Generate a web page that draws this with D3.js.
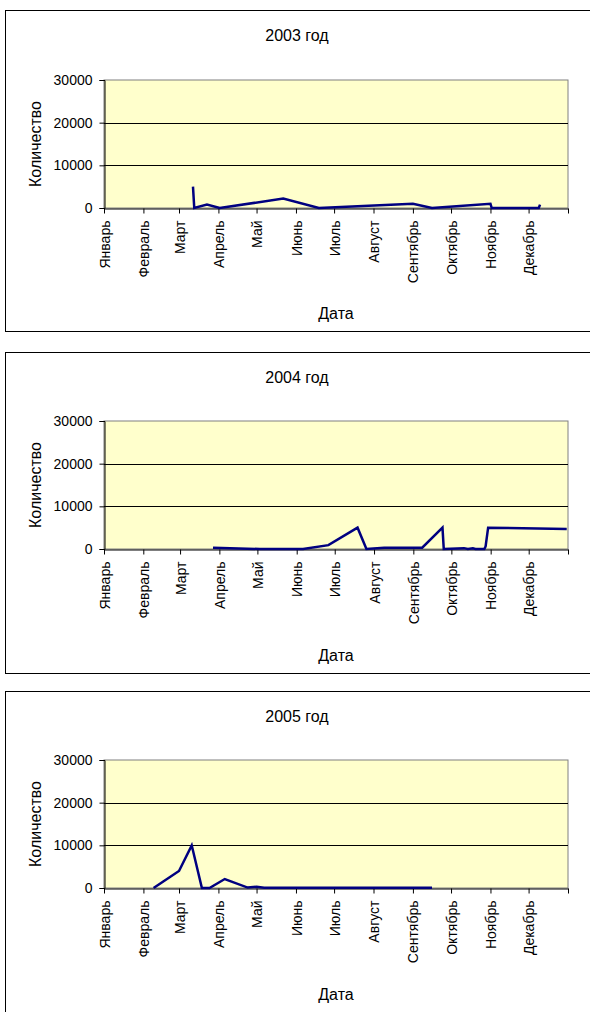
<!DOCTYPE html>
<html><head><meta charset="utf-8">
<script src="https://cdn.jsdelivr.net/npm/d3@7"></script>
<style>body{margin:0;background:#fff}svg{display:block}text{font-family:Arial,"Liberation Sans",sans-serif;fill:#000}</style>
</head><body>
<script>
const monthLabels = ['Январь','Февраль','Март','Апрель','Май','Июнь','Июль','Август','Сентябрь','Октябрь','Ноябрь','Декабрь'];
const yTickValues = [0, 10000, 20000, 30000];
const years = [2003, 2004, 2005];
const titles = ['2003 год', '2004 год', '2005 год'];
const xTitle = 'Дата';
const yTitle = 'Количество';

const dates2003 = ['2003-03-12','2003-03-13','2003-03-23','2003-04-02','2003-05-22','2003-06-19','2003-09-01','2003-09-16','2003-11-01','2003-11-02','2003-12-09','2003-12-10'];
const values2003 = [5000, 0, 800, 0, 2200, 0, 1000, 0, 1000, 0, 0, 800];

const dates2004 = ['2004-03-27','2004-05-03','2004-06-06','2004-06-26','2004-07-19','2004-07-26','2004-08-09','2004-09-08','2004-09-24','2004-09-25','2004-10-11','2004-10-14','2004-10-18','2004-10-20','2004-10-27','2004-10-28','2004-10-30','2004-12-31'];
const values2004 = [300, 0, 0, 900, 5000, 0, 300, 300, 5000, 0, 200, 0, 150, 0, 0, 600, 5000, 4700];

const dates2005 = ['2005-02-09','2005-03-01','2005-03-11','2005-03-19','2005-03-25','2005-04-06','2005-04-24','2005-05-01','2005-05-07','2005-06-10','2005-07-15','2005-08-10','2005-09-16'];
const values2005 = [0, 4000, 10000, 0, 0, 2100, 100, 300, 50, 80, 60, 80, 80];

const seriesDates = [dates2003, dates2004, dates2005];
const seriesValues = [values2003, values2004, values2005];

const W = 590, H = 1012;
const frameTops = [10, 352, 691];
const frameH = 321;
const plotOffset = [70, 69, 69];
const plotLeft = 104, plotRight = 568, plotH = 128;

const svg = d3.select('body').append('svg').attr('width', W).attr('height', H);
const parse = d3.timeParse('%Y-%m-%d');

years.forEach((yr, i) => {
  const ft = frameTops[i];
  const g = svg.append('g');
  g.append('rect').attr('x', 5.5).attr('y', ft + 0.5).attr('width', 620).attr('height', frameH)
    .attr('fill', '#fff').attr('stroke', '#000').attr('stroke-width', 1);

  const top = ft + plotOffset[i];
  const bottom = top + plotH;
  const x = d3.scaleTime().domain([new Date(yr, 0, 1), new Date(yr + 1, 0, 1)]).range([plotLeft, plotRight]);
  const y = d3.scaleLinear().domain([0, 30000]).range([bottom, top]);

  g.append('rect').attr('x', plotLeft).attr('y', top).attr('width', plotRight - plotLeft).attr('height', plotH)
    .attr('fill', '#FFFFCC').attr('stroke', '#808080').attr('stroke-width', 1);

  // gridlines
  g.selectAll('.grid').data(yTickValues.filter(v => v > 0 && v < 30000)).enter().append('line')
    .attr('x1', plotLeft).attr('x2', plotRight)
    .attr('y1', d => Math.round(y(d)) + 0.5).attr('y2', d => Math.round(y(d)) + 0.5)
    .attr('stroke', '#000').attr('stroke-width', 1);

  // y axis
  const ya = g.append('g').attr('transform', `translate(${plotLeft + 0.5},0)`)
    .call(d3.axisLeft(y).tickValues(yTickValues).tickSize(5).tickPadding(7).tickFormat(d3.format('d')));
  ya.select('.domain').attr('stroke', '#000');
  ya.selectAll('line').attr('stroke', '#000');
  ya.selectAll('text').attr('font-size', 14).attr('font-family', 'Arial, "Liberation Sans", sans-serif');

  // x axis
  const monthTicks = d3.timeMonth.range(new Date(yr, 0, 1), new Date(yr + 1, 0, 2));
  const xa = g.append('g').attr('transform', `translate(0,${bottom + 0.5})`)
    .call(d3.axisBottom(x).tickValues(monthTicks).tickSize(5).tickSizeOuter(0)
      .tickFormat(d => d.getFullYear() === yr ? monthLabels[d.getMonth()] : ''));
  xa.select('.domain').attr('stroke', '#000');
  xa.selectAll('line').attr('stroke', '#000');
  xa.selectAll('text').attr('font-size', 14).attr('font-family', 'Arial, "Liberation Sans", sans-serif')
    .attr('text-anchor', 'end').attr('transform', 'rotate(-90)')
    .attr('x', -12).attr('y', 0).attr('dy', '0.36em');

  // line
  const pts = seriesDates[i].map((d, k) => ({ date: parse(d), value: seriesValues[i][k] }));
  g.append('path').datum(pts)
    .attr('fill', 'none').attr('stroke', '#000080').attr('stroke-width', 2.5).attr('stroke-linejoin', 'miter')
    .attr('d', d3.line().x(d => x(d.date)).y(d => y(d.value)));

  // titles
  g.append('text').attr('x', 297).attr('y', ft + 31).attr('text-anchor', 'middle').attr('font-size', 16).text(titles[i]);
  g.append('text').attr('x', (plotLeft + plotRight) / 2).attr('y', ft + 309).attr('text-anchor', 'middle').attr('font-size', 16).text(xTitle);
  g.append('text').attr('transform', `translate(41,${(top + bottom) / 2}) rotate(-90)`).attr('text-anchor', 'middle').attr('font-size', 16).text(yTitle);
});
</script>
</body></html>
